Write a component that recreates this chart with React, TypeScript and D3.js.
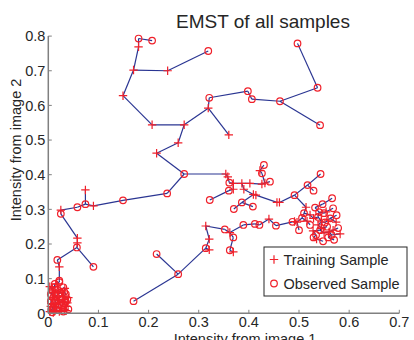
import * as d3 from "d3";

// Training samples (+)
const trainingSamples: [number, number][] = [
  [0.18, 0.769], [0.17, 0.702], [0.238, 0.7], [0.149, 0.628], [0.207, 0.544],
  [0.271, 0.544], [0.259, 0.492], [0.216, 0.462], [0.319, 0.592], [0.36, 0.515],
  [0.09, 0.31], [0.074, 0.356], [0.025, 0.298], [0.058, 0.217], [0.058, 0.203],
  [0.022, 0.134], [0.321, 0.214], [0.321, 0.183], [0.314, 0.252],
  [0.422, 0.412], [0.354, 0.402], [0.358, 0.394], [0.369, 0.375], [0.386, 0.375],
  [0.402, 0.375], [0.426, 0.373], [0.432, 0.376], [0.369, 0.358], [0.39, 0.358],
  [0.409, 0.343], [0.414, 0.341], [0.456, 0.32], [0.461, 0.32],
  [0.362, 0.233], [0.44, 0.272], [0.491, 0.265], [0.369, 0.177],
  // right cluster
  [0.514, 0.306], [0.496, 0.263], [0.554, 0.293], [0.529, 0.274], [0.545, 0.264],
  [0.568, 0.24], [0.535, 0.214], [0.522, 0.284], [0.538, 0.255], [0.558, 0.269],
  [0.574, 0.263], [0.582, 0.229], [0.55, 0.232], [0.516, 0.266], [0.545, 0.245],
  [0.56, 0.235], [0.528, 0.238],
  // origin cluster
  [0.003, 0.077], [0.015, 0.085], [0.033, 0.072], [0.01, 0.06], [0.02, 0.065],
  [0.03, 0.05], [0.008, 0.04], [0.018, 0.045], [0.028, 0.035], [0.038, 0.03],
  [0.005, 0.02], [0.015, 0.025], [0.025, 0.015], [0.035, 0.02], [0.012, 0.008],
  [0.022, 0.005], [0.032, 0.01], [0.003, 0.005], [0.04, 0.045], [0.02, 0.03],
  [0.008, 0.07], [0.028, 0.058], [0.012, 0.05], [0.032, 0.04], [0.006, 0.028],
  [0.022, 0.038], [0.036, 0.008], [0.016, 0.018], [0.026, 0.008], [0.01, 0.002],
];

// Observed samples (o)
const observedSamples: [number, number][] = [
  [0.18, 0.793], [0.207, 0.787], [0.319, 0.757], [0.321, 0.622], [0.398, 0.641],
  [0.406, 0.618], [0.462, 0.612], [0.537, 0.651], [0.497, 0.779], [0.542, 0.543],
  [0.271, 0.402], [0.237, 0.346], [0.149, 0.326], [0.074, 0.315], [0.058, 0.306],
  [0.025, 0.287], [0.057, 0.19], [0.09, 0.134], [0.018, 0.154], [0.022, 0.094],
  [0.17, 0.035], [0.259, 0.113], [0.216, 0.171], [0.314, 0.188], [0.322, 0.327],
  [0.43, 0.428], [0.426, 0.404], [0.361, 0.377], [0.442, 0.38], [0.36, 0.354],
  [0.491, 0.341], [0.517, 0.37], [0.529, 0.354], [0.543, 0.402], [0.566, 0.332],
  [0.386, 0.32], [0.37, 0.301], [0.408, 0.308],
  [0.352, 0.242], [0.369, 0.219], [0.389, 0.255], [0.412, 0.258], [0.421, 0.255],
  [0.454, 0.253], [0.487, 0.264], [0.5, 0.24], [0.362, 0.182],
  // right cluster
  [0.51, 0.289], [0.532, 0.305], [0.547, 0.315], [0.568, 0.303], [0.55, 0.289],
  [0.562, 0.274], [0.556, 0.25], [0.542, 0.24], [0.565, 0.226], [0.558, 0.219],
  [0.529, 0.219], [0.534, 0.226], [0.522, 0.255], [0.578, 0.246], [0.57, 0.212],
  [0.506, 0.275], [0.538, 0.278], [0.552, 0.262], [0.54, 0.292], [0.575, 0.283],
  [0.548, 0.208],
  // origin cluster
  [0.013, 0.085], [0.012, 0.075], [0.022, 0.09], [0.008, 0.065], [0.025, 0.06],
  [0.015, 0.05], [0.035, 0.055], [0.005, 0.035], [0.025, 0.04], [0.03, 0.028],
  [0.01, 0.015], [0.02, 0.018], [0.03, 0.005], [0.04, 0.012], [0.008, 0.003],
  [0.018, 0.01], [0.038, 0.04], [0.013, 0.032], [0.027, 0.022],
  [0.03, 0.075], [0.018, 0.068], [0.005, 0.055], [0.032, 0.062], [0.02, 0.055],
  [0.01, 0.045], [0.035, 0.033], [0.006, 0.01], [0.022, 0.025], [0.033, 0.015],
  [0.015, 0.038],
];

const xTicks = [0, 0.1, 0.2, 0.3, 0.4, 0.5, 0.6, 0.7];
const xTickLabels = ["0", "0.1", "0.2", "0.3", "0.4", "0.5", "0.6", "0.7"];
const yTicks = [0, 0.1, 0.2, 0.3, 0.4, 0.5, 0.6, 0.7, 0.8];
const yTickLabels = ["0", "0.1", "0.2", "0.3", "0.4", "0.5", "0.6", "0.7", "0.8"];

const font = "'Liberation Sans', Arial, Helvetica, sans-serif";
const red = "#f0202a";
const blue = "#2a3592";
const axisGray = "#808080";
const textColor = "#262626";

// Euclidean minimum spanning tree (Prim)
function emst(pts: [number, number][]) {
  const n = pts.length;
  const done = new Array(n).fill(false);
  const best = new Array(n).fill(Infinity);
  const parent = new Array(n).fill(-1);
  best[0] = 0;
  const edges: [number, number][] = [];
  for (let k = 0; k < n; k++) {
    let u = -1;
    for (let i = 0; i < n; i++) {
      if (!done[i] && (u < 0 || best[i] < best[u])) u = i;
    }
    done[u] = true;
    if (parent[u] >= 0) edges.push([parent[u], u]);
    for (let v = 0; v < n; v++) {
      if (done[v]) continue;
      const d = Math.hypot(pts[u][0] - pts[v][0], pts[u][1] - pts[v][1]);
      if (d < best[v]) {
        best[v] = d;
        parent[v] = u;
      }
    }
  }
  return edges;
}

export default function App() {
  const width = 414;
  const height = 340;
  const x = d3.scaleLinear().domain([0, 0.7]).range([48.3, 399.3]);
  const y = d3.scaleLinear().domain([0, 0.8]).range([313.3, 36.1]);

  const all = [...trainingSamples, ...observedSamples];
  const edges = emst(all);
  const line = d3.line<[number, number]>().x((d) => x(d[0])).y((d) => y(d[1]));

  const plus = 4.2;
  const r = 3.3;

  return (
    <svg width={width} height={height} style={{ display: "block", position: "absolute", left: 0, top: 0 }} fontFamily={font}>
      <rect width={width} height={height} fill="#fff" />
      <text x={263} y={28} textAnchor="middle" fontSize={19} fill={textColor}>
        EMST of all samples
      </text>

      {/* tree */}
      <g stroke={blue} strokeWidth={1.2} fill="none">
        {edges.map(([a, b], i) => (
          <path key={i} d={line([all[a], all[b]]) ?? ""} />
        ))}
      </g>

      {/* markers */}
      <g stroke={red} strokeWidth={1.2} fill="none">
        {trainingSamples.map((d, i) => (
          <path
            key={i}
            d={`M${x(d[0]) - plus},${y(d[1])}H${x(d[0]) + plus}M${x(d[0])},${y(d[1]) - plus}V${y(d[1]) + plus}`}
          />
        ))}
        {observedSamples.map((d, i) => (
          <circle key={i} cx={x(d[0])} cy={y(d[1])} r={r} />
        ))}
      </g>

      {/* axes */}
      <g stroke={axisGray} strokeWidth={1.5} fill="none">
        <line x1={x(0)} x2={x(0.7)} y1={y(0)} y2={y(0)} />
        <line x1={x(0)} x2={x(0)} y1={y(0)} y2={y(0.8)} />
        {xTicks.map((t) => (
          <line key={t} x1={x(t)} x2={x(t)} y1={y(0)} y2={y(0) - 3.5} strokeWidth={1} />
        ))}
        {yTicks.map((t) => (
          <line key={t} x1={x(0)} x2={x(0) + 3.5} y1={y(t)} y2={y(t)} strokeWidth={1} />
        ))}
      </g>
      <g fontSize={14.5} fill={textColor}>
        {xTicks.map((t, i) => (
          <text key={t} x={x(t)} y={y(0) + 14} textAnchor="middle">
            {xTickLabels[i]}
          </text>
        ))}
        {yTicks.map((t, i) => (
          <text key={t} x={x(0) - 3} y={y(t) + 5.3} textAnchor="end">
            {yTickLabels[i]}
          </text>
        ))}
        <text x={245} y={343.5} textAnchor="middle">
          Intensity from image 1
        </text>
        <text transform="translate(21,150) rotate(-90)" textAnchor="middle">
          Intensity from image 2
        </text>
      </g>

      {/* legend */}
      <g>
        <rect x={264} y={247} width={143} height={49} fill="#fff" stroke={textColor} strokeWidth={1} />
        <path
          d={`M${274 - plus},259.5H${274 + plus}M274,${259.5 - plus}V${259.5 + plus}`}
          stroke={red}
          strokeWidth={1.2}
        />
        <circle cx={274} cy={283.5} r={r} stroke={red} strokeWidth={1.2} fill="none" />
        <text x={283.5} y={264.8} fontSize={14.5} fill={textColor}>
          Training Sample
        </text>
        <text x={283.5} y={288.8} fontSize={14.5} fill={textColor}>
          Observed Sample
        </text>
      </g>
    </svg>
  );
}
